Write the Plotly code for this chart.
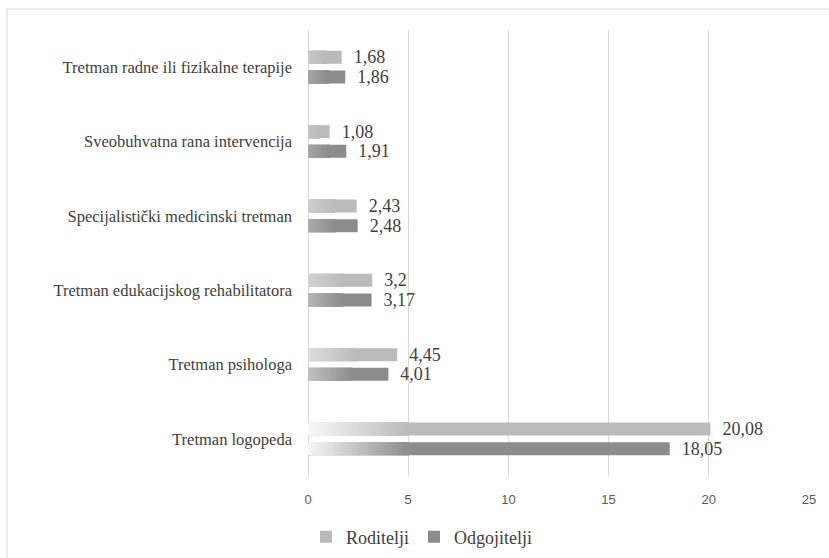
import plotly.graph_objects as go

categories = [
    "Tretman logopeda",
    "Tretman psihologa",
    "Tretman edukacijskog rehabilitatora",
    "Specijalistički medicinski tretman",
    "Sveobuhvatna rana intervencija",
    "Tretman radne ili fizikalne terapije",
]
roditelji = [20.08, 4.45, 3.2, 2.43, 1.08, 1.68]
odgojitelji = [18.05, 4.01, 3.17, 2.48, 1.91, 1.86]
x_ticks = [0, 5, 10, 15, 20, 25]

series = [
    ("Roditelji", roditelji, (187, 187, 187), 0.045),
    ("Odgojitelji", odgojitelji, (140, 140, 140), -0.22),
]
BAR_W = 0.175
N_SEG = 30
LIGHT = (248, 248, 248)

def fmt(v):
    return "\u00a0\u00a0" + ("%g" % v).replace(".", ",")

def rgb(c):
    return "rgb(%d,%d,%d)" % tuple(int(round(x)) for x in c)

def lerp(a, b, t):
    return tuple(a[i] + (b[i] - a[i]) * t for i in range(3))

fig = go.Figure()

for name, vals, col, off in series:
    fig.add_trace(go.Bar(
        y=categories, x=vals, orientation="h", name=name,
        marker=dict(color=rgb(col), line=dict(width=0)),
        offset=off, width=BAR_W,
        text=[fmt(v) for v in vals], textposition="outside",
        constraintext="none",
        textfont=dict(family="Liberation Serif", size=18, color="#404040"),
        cliponaxis=False, hoverinfo="skip",
    ))

# gradient overlay (lighter at the start of each bar); each segment overlaps
# the next one so that no anti-aliasing seams show
for name, vals, col, off in series:
    glen = [min(5.0, 0.55 * v) for v in vals]
    starts = [lerp(col, LIGHT, min(1.0, v / 8.0)) for v in vals]
    for k in range(N_SEG):
        t = k / N_SEG
        base = [g * t for g in glen]
        end = [min(g, g * (k + 3) / N_SEG) for g in glen]
        seg = [e - b for e, b in zip(end, base)]
        colors = [rgb(lerp(s, col, t + 0.5 / N_SEG)) for s in starts]
        fig.add_trace(go.Bar(
            y=categories, x=seg, base=base, orientation="h",
            marker=dict(color=colors, line=dict(width=0)),
            offset=off, width=BAR_W, showlegend=False, hoverinfo="skip",
        ))

L, R, T, B = 308, 20, 30, 82
W, H = 829, 558
pw, ph = W - L - R, H - T - B

fig.update_layout(
    width=W, height=H,
    margin=dict(l=L, r=R, t=T, b=B, pad=0, autoexpand=False),
    barmode="overlay",
    paper_bgcolor="white", plot_bgcolor="white",
    showlegend=True,
    legend=dict(
        orientation="h",
        xref="container", x=306 / W, xanchor="left",
        yref="container", y=(H - 537) / H, yanchor="middle",
        font=dict(family="Liberation Serif", size=18, color="#404040"),
        itemwidth=30, tracegroupgap=0, bgcolor="rgba(0,0,0,0)",
    ),
    xaxis=dict(
        range=[0, 25], tickvals=x_ticks, ticktext=[str(t) for t in x_ticks],
        showgrid=True, gridcolor="#d9d9d9", gridwidth=1,
        zeroline=True, zerolinecolor="#d9d9d9", zerolinewidth=1,
        showline=False, ticks="", ticklabelstandoff=14, automargin=False,
        tickfont=dict(family="Liberation Sans", size=13, color="#595959"),
        fixedrange=True,
    ),
    yaxis=dict(
        categoryorder="array", categoryarray=categories,
        showgrid=False, zeroline=False, showline=False, ticks="",
        ticklabelstandoff=15, automargin=False,
        tickfont=dict(family="Liberation Serif", size=16.5, color="#404040"),
        fixedrange=True,
    ),
    shapes=[dict(
        type="rect", xref="paper", yref="paper",
        x0=(7 - L) / pw, x1=1.2, y0=-0.4, y1=(T + ph - 9) / ph,
        line=dict(color="#d9d9d9", width=1), fillcolor="rgba(0,0,0,0)",
        layer="below",
    )],
)

fig.write_html(
    "out.html",
    config={"displayModeBar": False},
    post_script="document.body.style.margin='0px';",
)
